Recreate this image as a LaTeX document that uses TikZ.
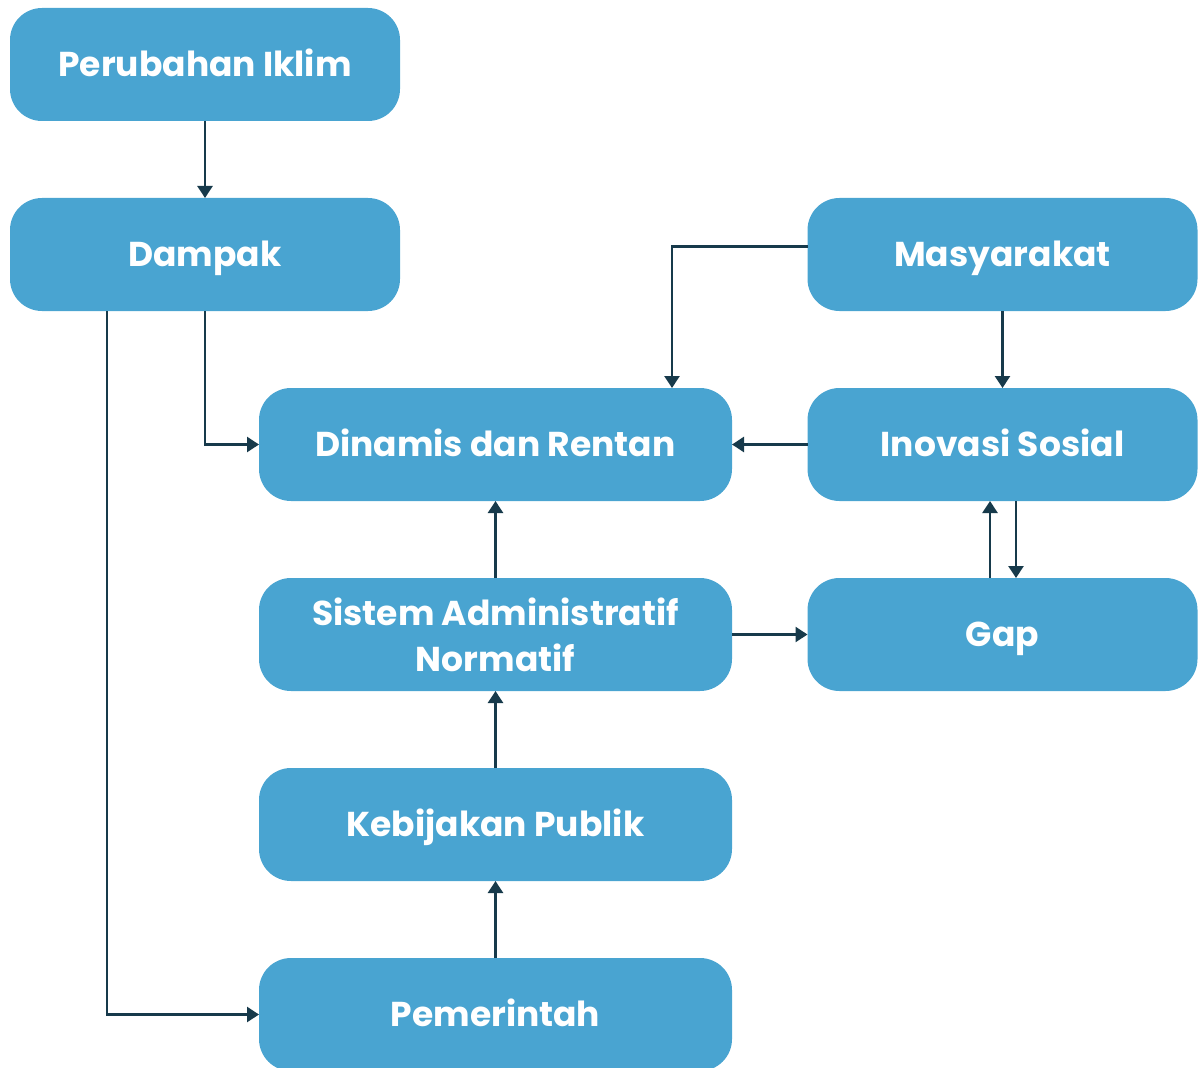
\documentclass[tikz,border=0pt]{standalone}
\usepackage{fontspec}
\setmainfont{Poppins}[UprightFont=* Bold]
\usetikzlibrary{arrows.meta,calc}
\definecolor{boxblue}{HTML}{49A4D1}
\definecolor{arrowdark}{HTML}{173A4B}
\tikzset{
  basebox/.style={fill=boxblue, draw=none, rounded corners=32pt, minimum width=390pt, minimum height=113pt, inner sep=0pt, outer sep=0pt, text=white, align=center, font=\fontsize{34.5}{46}\selectfont},
  boxnode/.style={basebox, text height=24pt, text depth=0pt},
  widebox/.style={boxnode, minimum width=473pt},
  widetwo/.style={basebox, minimum width=473pt},
  conn/.style={draw=arrowdark, line width=2.5pt, -{Triangle[length=12pt,width=15pt]}}
}
\begin{document}
\begin{tikzpicture}[x=1pt,y=-1pt]
\useasboundingbox (0,0) rectangle (1198,1067);
\node[boxnode] (iklim) at (205,64.5) {Perubahan Iklim};
\node[boxnode] (dampak) at (205,254.5) {Dampak};
\node[boxnode] (masy) at (1002.5,254.5) {Masyarakat};
\node[widebox] (dinamis) at (495.5,444.5) {Dinamis dan Rentan};
\node[boxnode] (inovasi) at (1002.5,444.5) {Inovasi Sosial};
\node[widetwo] (sistem) at (495.5,634.5) {Sistem Administratif\\Normatif};
\node[boxnode] (gap) at (1002.5,634.5) {Gap};
\node[widebox] (kebijakan) at (495.5,824.5) {Kebijakan Publik};
\node[widebox] (pemerintah) at (495.5,1014.5) {Pemerintah};

\coordinate (dampakL) at ([xshift=-98pt]dampak.south);
\coordinate (masyL) at ([yshift=8pt]masy.west);
\coordinate (dinamisT) at ([xshift=176.5pt]dinamis.north);
\coordinate (inoUp) at ([xshift=-12.5pt]inovasi.south);
\coordinate (gapUp) at ([xshift=-12.5pt]gap.north);
\coordinate (inoDn) at ([xshift=13.5pt]inovasi.south);
\coordinate (gapDn) at ([xshift=13.5pt]gap.north);

\draw[conn] (iklim) -- (dampak);
\draw[conn] (dampak.south) |- (dinamis.west);
\draw[conn] (dampakL) |- (pemerintah.west);
\draw[conn] (masyL) -| (dinamisT);
\draw[conn] (masy) -- (inovasi);
\draw[conn] (inovasi) -- (dinamis);
\draw[conn] (gapUp) -- (inoUp);
\draw[conn] (inoDn) -- (gapDn);
\draw[conn] (sistem) -- (dinamis);
\draw[conn] (sistem) -- (gap);
\draw[conn] (kebijakan) -- (sistem);
\draw[conn] (pemerintah) -- (kebijakan);
\end{tikzpicture}
\end{document}
